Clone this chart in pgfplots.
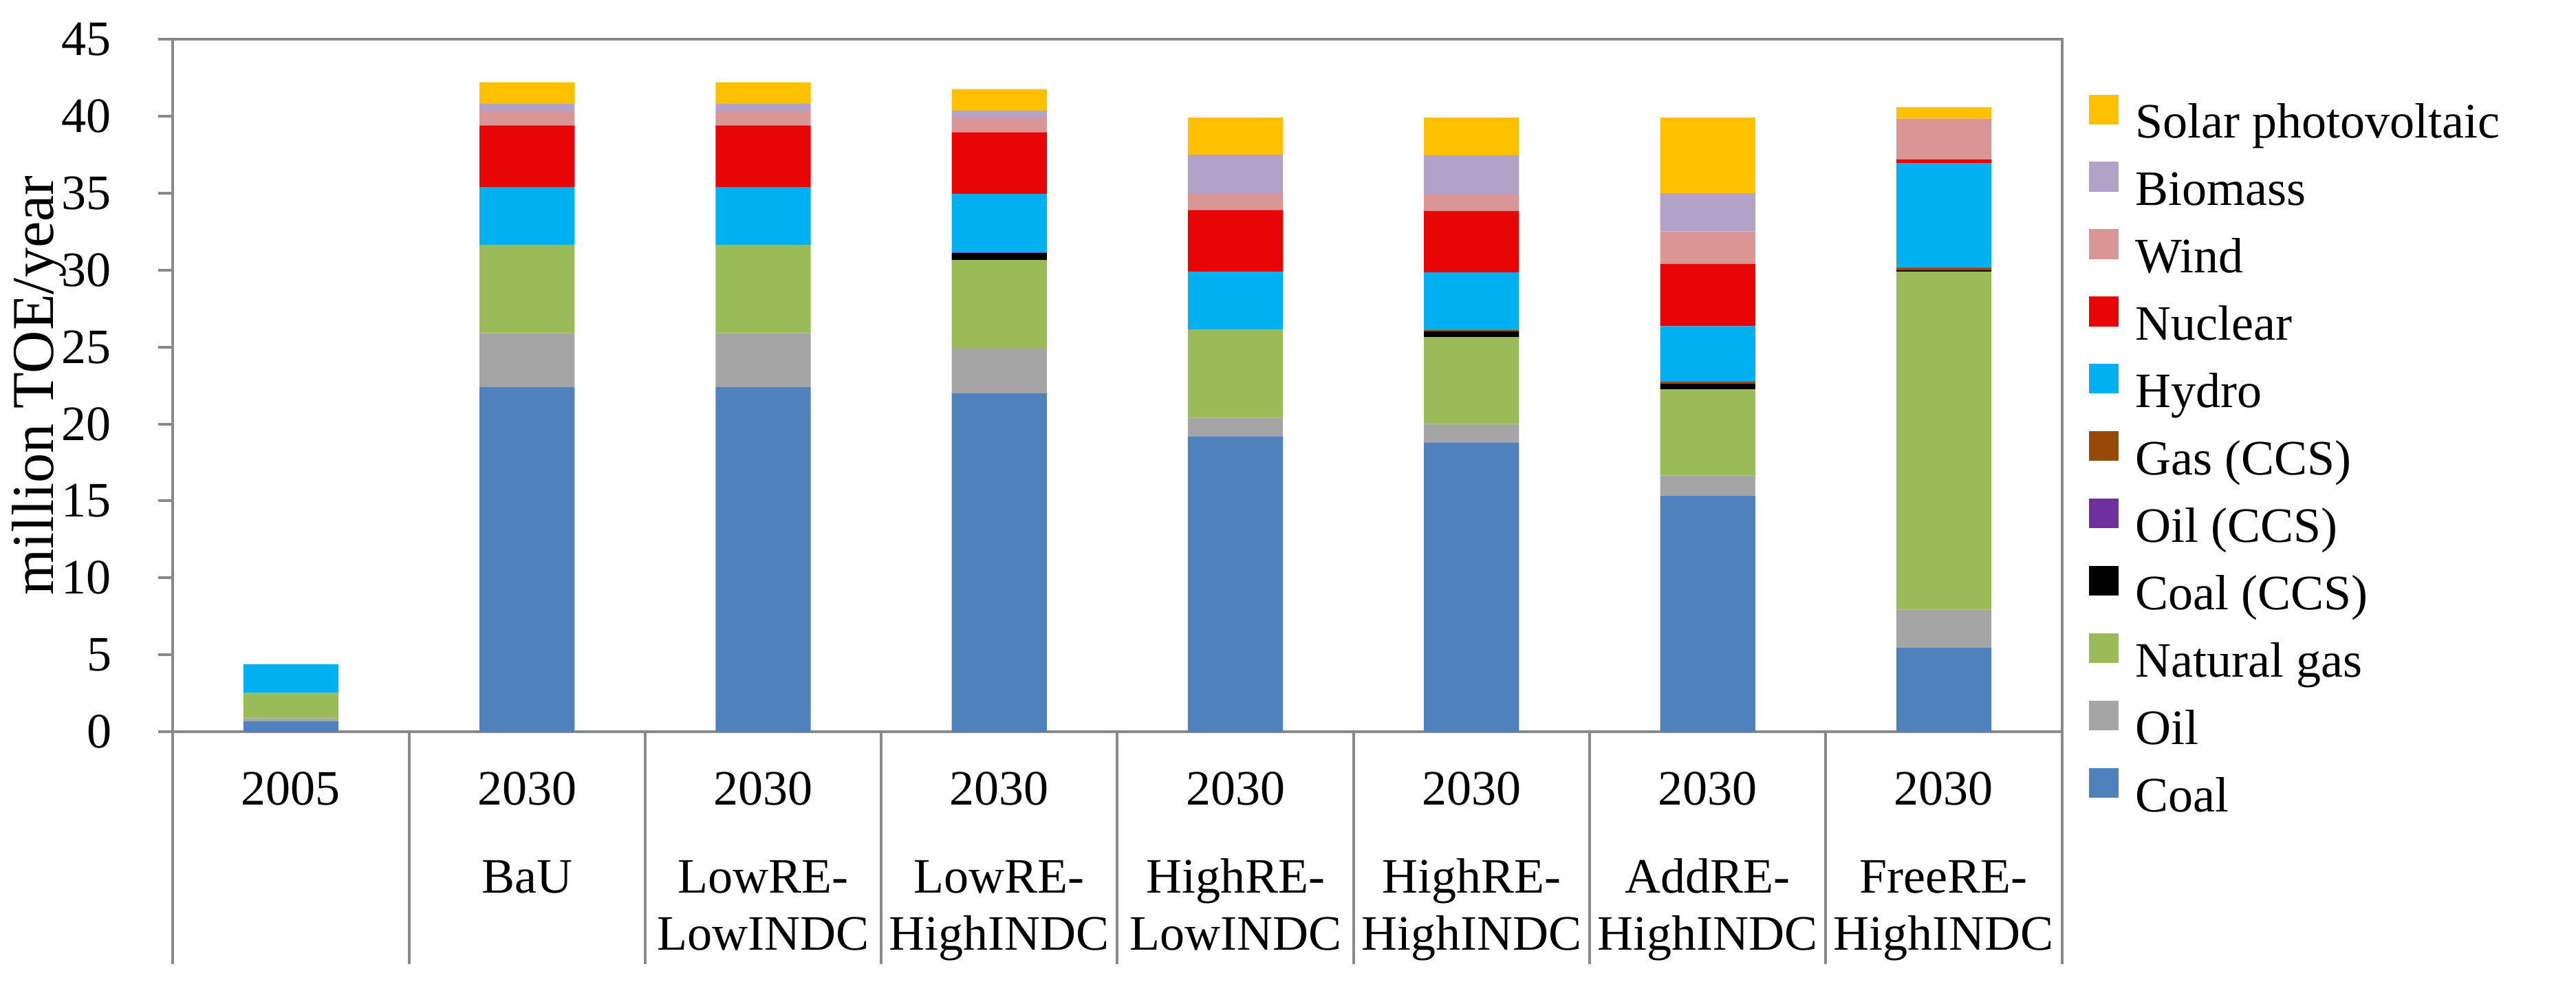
\documentclass[border=0pt]{standalone}
\usepackage{fontspec}
\setmainfont{Liberation Serif}
\usepackage{pgfplots}
\pgfplotsset{compat=1.18}

\definecolor{axgray}{HTML}{898989}
\definecolor{cCoal}{HTML}{4F81BD}
\definecolor{cOil}{HTML}{A5A5A5}
\definecolor{cGas}{HTML}{9BBB59}
\definecolor{cCoalCCS}{HTML}{000000}
\definecolor{cOilCCS}{HTML}{7030A0}
\definecolor{cGasCCS}{HTML}{984807}
\definecolor{cHydro}{HTML}{00B0F0}
\definecolor{cNuclear}{HTML}{E80505}
\definecolor{cWind}{HTML}{D99694}
\definecolor{cBiomass}{HTML}{B2A2C7}
\definecolor{cSolar}{HTML}{FFC000}

\begin{document}
\begin{tikzpicture}
\begin{axis}[
    scale only axis, width=381.4pt, height=139.9pt,
    ybar stacked, bar width=19.2pt,
    xmin=-0.5, xmax=7.5, ymin=0, ymax=45,
    enlargelimits=false,
    axis line style={draw=axgray, line width=0.55pt},
    tick align=outside,
    xtick pos=bottom, ytick pos=left,
    major tick length=3pt,
    tick style={draw=axgray, line width=0.55pt},
    ytick={0,5,...,45},
    xtick={0,1,...,7},
    xtick style={draw=none},
    xticklabels={{2005},{2030\\[6.3pt]BaU},{2030\\[6.3pt]LowRE-\\LowINDC},
        {2030\\[6.3pt]LowRE-\\HighINDC},{2030\\[6.3pt]HighRE-\\LowINDC},
        {2030\\[6.3pt]HighRE-\\HighINDC},{2030\\[6.3pt]AddRE-\\HighINDC},
        {2030\\[6.3pt]FreeRE-\\HighINDC}},
    xticklabel style={align=center, anchor=north, inner sep=0pt, yshift=-4.9pt},
    extra x ticks={-0.5,0.5,...,7.5},
    extra x tick labels={},
    extra x tick style={major tick length=46.9pt, xtick style={draw=axgray, line width=0.55pt}},
    tick label style={font=\fontsize{10}{11.5}\selectfont},
    yticklabel style={anchor=east, inner sep=0pt, xshift=-9.2pt},
    /pgf/number format/assume math mode=true,
    ylabel={million TOE/year},
    every axis y label/.style={at={([xshift=-27pt]rel axis cs:0,0.5)}, rotate=90, anchor=center,
        font=\fontsize{12}{13}\selectfont},
    legend image code/.code={\fill[#1] (0pt,0.4pt) rectangle (6pt,6.4pt);},
    reverse legend,
    legend cell align=left,
    legend style={at={(1,1)}, anchor=north west, xshift=5.5pt, yshift=-11.2pt,
        draw=none, fill=none, inner sep=0pt, outer sep=0pt, row sep=2.6pt,
        font=\fontsize{10}{11.5}\selectfont,
        nodes={inner sep=0pt, text height=7pt, text depth=2.2pt},
        /tikz/every odd column/.append style={column sep=3.3pt}},
]
% Coal, Oil, Natural gas, Coal (CCS), Oil (CCS), Gas (CCS), Hydro, Nuclear, Wind, Biomass, Solar
\addplot[fill=cCoal, draw=none] coordinates {(0,0.70) (1,22.4) (2,22.4) (3,22.0) (4,19.2) (5,18.8) (6,15.35) (7,5.45)};
\addplot[fill=cOil, draw=none] coordinates {(0,0.18) (1,3.5) (2,3.5) (3,2.9) (4,1.2) (5,1.2) (6,1.3) (7,2.5)};
\addplot[fill=cGas, draw=none] coordinates {(0,1.65) (1,5.75) (2,5.75) (3,5.75) (4,5.75) (5,5.65) (6,5.6) (7,21.95)};
\addplot[fill=cCoalCCS, draw=none] coordinates {(0,0) (1,0) (2,0) (3,0.45) (4,0) (5,0.35) (6,0.38) (7,0.08)};
\addplot[fill=cOilCCS, draw=none] coordinates {(0,0) (1,0) (2,0) (3,0.05) (4,0) (5,0) (6,0) (7,0)};
\addplot[fill=cGasCCS, draw=none] coordinates {(0,0) (1,0) (2,0) (3,0) (4,0) (5,0.1) (6,0.12) (7,0.2)};
\addplot[fill=cHydro, draw=none] coordinates {(0,1.87) (1,3.75) (2,3.75) (3,3.8) (4,3.75) (5,3.75) (6,3.6) (7,6.75)};
\addplot[fill=cNuclear, draw=none] coordinates {(0,0) (1,4.0) (2,4.0) (3,4.0) (4,4.0) (5,4.0) (6,4.05) (7,0.25)};
\addplot[fill=cWind, draw=none] coordinates {(0,0) (1,0.95) (2,0.95) (3,0.95) (4,1.1) (5,1.05) (6,2.1) (7,2.65)};
\addplot[fill=cBiomass, draw=none] coordinates {(0,0) (1,0.45) (2,0.45) (3,0.45) (4,2.5) (5,2.55) (6,2.5) (7,0)};
\addplot[fill=cSolar, draw=none] coordinates {(0,0) (1,1.4) (2,1.4) (3,1.4) (4,2.4) (5,2.45) (6,4.9) (7,0.75)};
% totals on top
\addplot[forget plot, draw=none, fill=none, nodes near coords, point meta=explicit symbolic,
    every node near coord/.append style={anchor=south, inner sep=0pt, yshift=0.8pt,
        font=\fontsize{10}{11.5}\selectfont, text=black}]
    coordinates {(0,0)[4.4] (1,0)[42.2] (2,0)[42.2] (3,0)[41.7] (4,0)[39.9] (5,0)[39.9] (6,0)[39.9] (7,0)[40.6]};
\legend{Coal, Oil, Natural gas, Coal (CCS), Oil (CCS), Gas (CCS), Hydro, Nuclear, Wind, Biomass, Solar photovoltaic}
\coordinate (o) at (rel axis cs:0,0);
\end{axis}
\pgfresetboundingbox
\path ([shift={(-34.9pt,-50.5pt)}]o) rectangle ++(520.1pt,198.3pt);
\end{tikzpicture}
\end{document}
